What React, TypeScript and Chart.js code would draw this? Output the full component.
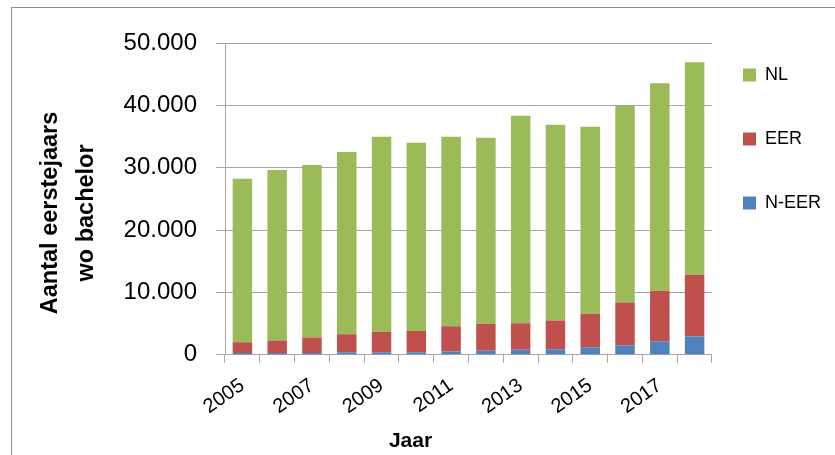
import React, { useEffect, useRef } from "react";
import { Chart, registerables } from "chart.js";

Chart.register(...registerables);

const years = ["2005", "2006", "2007", "2008", "2009", "2010", "2011", "2012", "2013", "2014", "2015", "2016", "2017", "2018"];
const nEER = [300, 300, 300, 430, 430, 430, 530, 640, 800, 910, 1230, 1550, 2190, 2940];
const eer = [1730, 2000, 2480, 2880, 3260, 3370, 4070, 4330, 4280, 4590, 5340, 6830, 8070, 9880];
const nl = [26200, 27330, 27650, 29210, 31290, 30210, 30380, 29850, 33270, 31400, 30010, 31570, 33290, 34080];

const seriesNames = ["N-EER", "EER", "NL"];
const seriesColors = ["#4F81BD", "#C0504D", "#9BBB59"];
const yTitle = ["Aantal eerstejaars", "wo bachelor"];
const xTitle = "Jaar";
const yMax = 50000;
const yStep = 10000;

const FONT = "'Liberation Sans', Arial, sans-serif";
const GRID = "#A6A6A6";

const fmt = (v: number) => String(Math.round(v)).replace(/\B(?=(\d{3})+(?!\d))/g, ".");

const titlesPlugin = {
  id: "freeTitles",
  afterDraw(chart: any) {
    const { ctx, chartArea } = chart;
    const w = chartArea.right - chartArea.left;
    const h = chartArea.bottom - chartArea.top;
    ctx.save();
    ctx.fillStyle = "#000";
    ctx.textAlign = "center";
    ctx.textBaseline = "alphabetic";
    ctx.font = `bold 21px ${FONT}`;
    ctx.fillText(xTitle, chartArea.left + w * 0.381, chartArea.bottom + 92);
    ctx.font = `bold 23.5px ${FONT}`;
    const cy = chartArea.top + h * 0.545;
    yTitle.forEach((line, i) => {
      ctx.save();
      ctx.translate(57 + i * 36, cy);
      ctx.rotate(-Math.PI / 2);
      ctx.fillText(line, 0, 0);
      ctx.restore();
    });
    ctx.restore();
  },
};

export default function App() {
  const ref = useRef<HTMLCanvasElement>(null);
  useEffect(() => {
    if (!ref.current) return;
    const data = [nEER, eer, nl];
    const chart = new Chart(ref.current, {
      type: "bar",
      data: {
        labels: years,
        datasets: data.map((d, i) => ({
          label: seriesNames[i],
          data: d,
          backgroundColor: seriesColors[i],
          borderWidth: 0,
          categoryPercentage: 1,
          barPercentage: 0.56,
        })),
      },
      options: {
        responsive: false,
        animation: false,
        layout: { padding: { top: 35, left: 23, right: 4, bottom: 25 } },
        plugins: {
          title: { display: true, text: "", font: { size: 1, lineHeight: 1 }, padding: { top: 0, bottom: 7 } },
          tooltip: { enabled: false },
          legend: {
            position: "right",
            align: "start",
            labels: {
              boxWidth: 13,
              boxHeight: 13,
              padding: 31,
              color: "#000",
              font: { family: FONT, size: 18, lineHeight: 33 / 18 },
              generateLabels: (c: any) =>
                [2, 1, 0].map((i) => ({
                  text: [c.data.datasets[i].label],
                  fillStyle: c.data.datasets[i].backgroundColor,
                  strokeStyle: c.data.datasets[i].backgroundColor,
                  lineWidth: 0,
                  hidden: false,
                  datasetIndex: i,
                  fontColor: "#000",
                })),
            },
          },
        },
        scales: {
          x: {
            stacked: true,
            grid: { display: true, drawOnChartArea: false, drawTicks: true, tickLength: 8, color: GRID, offset: true },
            border: { display: true, color: GRID },
            ticks: {
              autoSkip: false,
              minRotation: 35,
              maxRotation: 35,
              padding: 11,
              color: "#000",
              font: { family: FONT, size: 20 },
              callback: (_v: any, i: number) => (i % 2 === 0 ? years[i] : ""),
            },
          },
          y: {
            stacked: true,
            min: 0,
            max: yMax,
            grid: { color: GRID, tickLength: 9, drawTicks: true },
            border: { display: true, color: GRID },
            ticks: {
              stepSize: yStep,
              padding: 19,
              color: "#000",
              font: { family: FONT, size: 24 },
              callback: (v: any) => fmt(Number(v)),
            },
            title: {
              display: true,
              text: [" ", " "],
              font: { family: FONT, size: 23, weight: "bold", lineHeight: 1.52 },
              padding: { top: 10, bottom: 20 },
            },
          },
        },
      },
      plugins: [titlesPlugin],
    });
    return () => chart.destroy();
  }, []);

  return (
    <div style={{ position: "absolute", left: 0, top: 0, width: 835, height: 455, overflow: "hidden", background: "#fff" }}>
      <div style={{ position: "absolute", left: 11, top: 7, width: 900, height: 500, border: "1px solid #8E8E8E", boxSizing: "border-box" }} />
      <canvas ref={ref} width={835} height={455} style={{ position: "absolute", left: 0, top: 0, width: 835, height: 455 }} />
    </div>
  );
}
